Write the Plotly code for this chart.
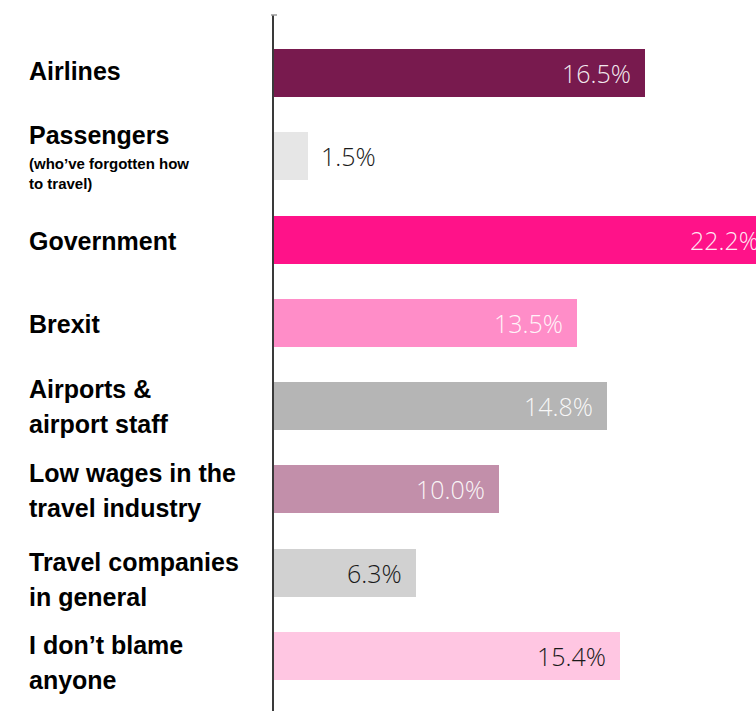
import plotly.graph_objects as go

# Survey: who is to blame for the travel chaos (% of respondents)
categories = [
    "Airlines",
    "Passengers (who’ve forgotten how to travel)",
    "Government",
    "Brexit",
    "Airports & airport staff",
    "Low wages in the travel industry",
    "Travel companies in general",
    "I don’t blame anyone",
]
label_lines = [
    ["Airlines"],
    ["Passengers"],
    ["Government"],
    ["Brexit"],
    ["Airports &", "airport staff"],
    ["Low wages in the", "travel industry"],
    ["Travel companies", "in general"],
    ["I don’t blame", "anyone"],
]
sub_lines = [
    [],
    ["(who’ve forgotten how", "to travel)"],
    [], [], [], [], [], [],
]
values = [16.5, 1.5, 22.2, 13.5, 14.8, 10.0, 6.3, 15.4]
value_labels = ["16.5%", "1.5%", "22.2%", "13.5%", "14.8%", "10.0%", "6.3%", "15.4%"]

colors = ["#781A4E", "#E6E6E6", "#FF1289", "#FF8DC8",
          "#B5B5B5", "#C28FAA", "#D1D1D1", "#FFC6E2"]
label_colors = ["rgba(255,255,255,0.92)", "#1a1a1a", "rgba(255,255,255,0.92)",
                "rgba(255,255,255,0.92)", "rgba(255,255,255,0.92)",
                "rgba(255,255,255,0.92)", "#1a1a1a", "#1a1a1a"]

# small vertical nudges (px) for the left-hand category labels
label_nudge = [3.5, 0, 0.5, 0, 1, 0, -5, -5]

W, H = 756, 711
ML = 274
PX_PER_PCT = 22.47
X_MAX = (W - ML) / PX_PER_PCT
LABEL_X = -(ML - 27) / (W - ML)

fig = go.Figure(
    go.Bar(
        x=values,
        y=categories,
        orientation="h",
        width=0.576,
        marker=dict(color=colors, line=dict(width=0)),
        hoverinfo="skip",
    )
)

LABEL_FONT = "Liberation Sans, Arial, Helvetica, sans-serif"
VALUE_FONT = "Open Sans, Roboto, Lato, sans-serif"

annotations = []
for cat, lines, subs, v, txt, tc, nudge in zip(categories, label_lines, sub_lines,
                                               values, value_labels, label_colors,
                                               label_nudge):
    # category label, left-aligned in the left margin
    if subs:
        annotations.append(dict(
            x=LABEL_X, xref="paper", y=cat, yref="y",
            text="<b>" + lines[0] + "</b>", showarrow=False,
            xanchor="left", yanchor="middle", yshift=21 + nudge,
            font=dict(family=LABEL_FONT, size=25, color="#000000"),
        ))
        for k, s in enumerate(subs):
            annotations.append(dict(
                x=LABEL_X, xref="paper", y=cat, yref="y",
                text="<b>" + s + "</b>", showarrow=False,
                xanchor="left", yanchor="middle", yshift=-7 - 20 * k + nudge,
                font=dict(family=LABEL_FONT, size=15, color="#000000"),
            ))
    else:
        n = len(lines)
        for k, s in enumerate(lines):
            annotations.append(dict(
                x=LABEL_X, xref="paper", y=cat, yref="y",
                text="<b>" + s + "</b>", showarrow=False,
                xanchor="left", yanchor="middle",
                yshift=((n - 1) / 2 - k) * 35 - 1.5 + nudge,
                font=dict(family=LABEL_FONT, size=25, color="#000000"),
            ))
    # value label at the end of the bar; the invisible arrow runs from the
    # axis origin to the bar end so labels past the axis edge still render
    inside = v >= 3
    annotations.append(dict(
        x=0, xref="x", y=cat, yref="y",
        ax=v, axref="x", ay=cat, ayref="y",
        showarrow=True, arrowcolor="rgba(0,0,0,0)", arrowwidth=0.1,
        arrowhead=0, standoff=0, startstandoff=0,
        text=txt,
        xanchor="right" if inside else "left",
        xshift=-12 if inside else 11, yanchor="middle",
        font=dict(family=VALUE_FONT, size=25, color=tc, weight=300),
    ))

fig.update_layout(
    width=W, height=H,
    margin=dict(l=ML, r=0, t=15, b=0, pad=0),
    paper_bgcolor="white", plot_bgcolor="white",
    showlegend=False,
    bargap=0,
    annotations=annotations,
    xaxis=dict(range=[0, X_MAX], visible=False, fixedrange=True),
    yaxis=dict(
        range=[7.66, -0.696], showticklabels=False, ticks="",
        showgrid=False, zeroline=False,
        showline=True, linecolor="#3a3a3a", linewidth=1.5, fixedrange=True,
    ),
    shapes=[dict(
        type="line", xref="paper", yref="paper",
        xsizemode="pixel", xanchor=0, x0=-3, x1=3, y0=1, y1=1,
        line=dict(color="#9a9a9a", width=1.5),
    )],
)

fig.write_html("out.html", config={"displayModeBar": False})
